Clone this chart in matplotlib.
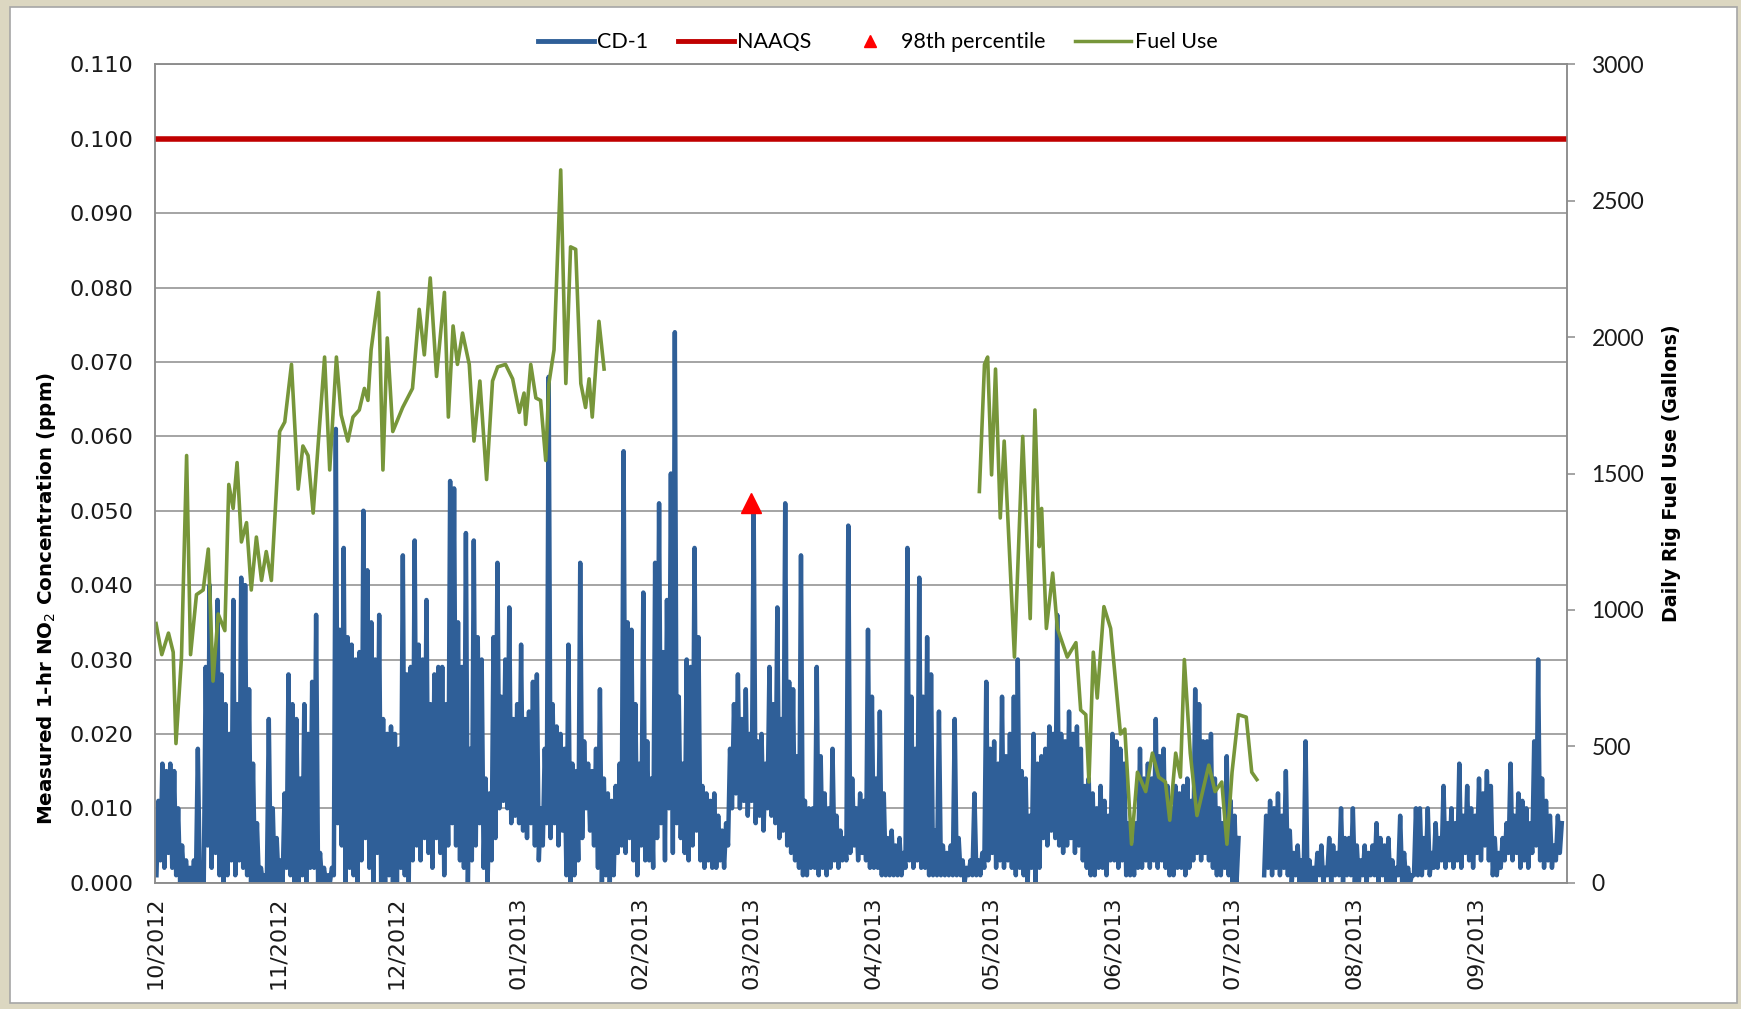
import numpy as np
import matplotlib
matplotlib.use("Agg")
import matplotlib.pyplot as plt
import matplotlib.dates as mdates
from matplotlib.lines import Line2D
from matplotlib.patches import Rectangle
from matplotlib.ticker import FormatStrFormatter
from datetime import datetime

nan = float("nan")

START = datetime(2012, 10, 1)
END = datetime(2013, 9, 24)

# CD-1 hourly NO2, read as daily high / low (ppb), day 0 = 2012-10-01
no2_hi = [
    11, 16, 15, 16, 15, 10, 5, 3, 2, 3,
    18, 2, 29, 40, 30, 38, 28, 24, 20, 38,
    24, 41, 40, 26, 16, 8, 2, 1, 22, 10,
    6, 3, 12, 28, 24, 22, 14, 24, 20, 27,
    36, 4, 2, 1, 2, 61, 34, 45, 33, 32,
    30, 31, 50, 42, 35, 30, 36, 22, 20, 21,
    20, 18, 44, 28, 29, 46, 32, 30, 38, 24,
    28, 29, 29, 24, 54, 53, 35, 29, 47, 18,
    46, 33, 30, 14, 12, 33, 43, 25, 30, 37,
    22, 24, 32, 22, 23, 27, 28, 10, 18, 68,
    24, 21, 20, 18, 32, 16, 15, 43, 19, 16,
    15, 18, 26, 14, 12, 11, 13, 16, 58, 35,
    34, 24, 16, 39, 19, 14, 43, 51, 31, 38,
    55, 74, 25, 16, 30, 29, 45, 33, 13, 12,
    11, 12, 9, 7, 8, 18, 24, 28, 22, 26,
    20, 50, 19, 20, 16, 29, 24, 37, 22, 51,
    27, 26, 17, 44, 11, 10, 10, 29, 17, 12,
    10, 18, 9, 7, 6, 48, 14, 10, 12, 11,
    34, 25, 14, 23, 12, 6, 7, 5, 6, 4,
    45, 25, 18, 41, 25, 33, 28, 7, 23, 5,
    4, 5, 22, 6, 3, 2, 3, 12, 3, 4,
    27, 18, 19, 16, 25, 17, 20, 25, 30, 15,
    14, 9, 20, 16, 17, 18, 21, 20, 36, 20,
    19, 23, 20, 21, 18, 13, 14, 12, 10, 13,
    11, 9, 20, 19, 18, 16, 8, 5, 8, 18,
    14, 16, 14, 22, 17, 18, 13, 10, 13, 12,
    13, 14, 11, 26, 24, 19, 19, 20, 14, 10,
    8, 17, 11, 9, 6, nan, nan, nan, nan, nan,
    nan, 9, 11, 10, 12, 9, 15, 7, 4, 5,
    3, 19, 3, 2, 4, 5, 2, 6, 5, 4,
    10, 6, 6, 10, 5, 3, 5, 4, 5, 8,
    6, 5, 6, 3, 2, 9, 4, 2, 1, 10,
    10, 6, 10, 4, 8, 6, 13, 8, 10, 8,
    16, 9, 13, 10, 9, 14, 12, 15, 13, 6,
    4, 6, 8, 16, 9, 12, 11, 10, 8, 19,
    30, 14, 11, 9, 5, 9, 8,
]
no2_lo = [
    1, 3, 2, 4, 2, 1, 0, 0, 0, 0,
    0, 0, 0, 5, 2, 4, 1, 0, 1, 3,
    1, 3, 2, 1, 0, 0, 0, 0, 0, 0,
    0, 0, 0, 2, 1, 0, 0, 1, 0, 2,
    2, 0, 0, 0, 0, 1, 8, 5, 0, 2,
    1, 0, 3, 6, 2, 0, 4, 0, 0, 1,
    0, 0, 2, 1, 0, 3, 5, 3, 6, 4,
    2, 6, 4, 1, 5, 8, 5, 3, 2, 0,
    3, 5, 8, 2, 0, 3, 6, 10, 11, 10,
    8, 9, 8, 7, 6, 8, 5, 3, 5, 8,
    6, 8, 5, 7, 1, 0, 1, 3, 6, 10,
    7, 5, 2, 0, 1, 0, 1, 4, 5, 4,
    6, 3, 1, 5, 3, 3, 2, 6, 8, 3,
    10, 4, 8, 6, 4, 3, 5, 7, 3, 2,
    3, 2, 2, 3, 2, 5, 10, 12, 10, 11,
    9, 11, 8, 9, 7, 10, 9, 8, 6, 7,
    5, 4, 3, 2, 1, 1, 2, 2, 1, 2,
    1, 2, 3, 2, 3, 3, 4, 5, 3, 4,
    3, 2, 2, 2, 1, 1, 1, 1, 1, 1,
    2, 3, 2, 3, 2, 2, 1, 1, 1, 1,
    1, 1, 1, 1, 1, 0, 1, 1, 1, 1,
    2, 3, 4, 2, 3, 2, 3, 2, 1, 2,
    1, 0, 2, 0, 2, 6, 5, 7, 6, 5,
    4, 5, 6, 4, 5, 3, 2, 1, 1, 2,
    2, 1, 3, 3, 2, 3, 1, 1, 1, 2,
    2, 3, 2, 3, 2, 3, 2, 1, 1, 2,
    2, 1, 2, 3, 4, 3, 4, 3, 2, 1,
    1, 2, 1, 0, 0, nan, nan, nan, nan, nan,
    nan, 1, 2, 1, 2, 1, 2, 1, 0, 1,
    0, 0, 0, 0, 0, 1, 0, 1, 0, 1,
    1, 0, 1, 1, 0, 0, 1, 0, 1, 1,
    0, 1, 0, 0, 0, 1, 0, 0, 0, 1,
    1, 1, 2, 1, 2, 2, 3, 2, 3, 2,
    3, 2, 4, 3, 2, 4, 3, 5, 3, 1,
    1, 2, 3, 4, 3, 4, 2, 3, 2, 4,
    5, 3, 2, 3, 2, 3, 4,
]

# daily rig fuel use (gallons), days since 2012-10-01
fuel_day = [
    0.15, 1.6, 3.3, 4.5, 5.2, 6.6, 7.9, 8.9, 10.4, 12.1, 13.4, 14.6, 15.9,
    17.6, 18.6, 19.7, 20.7, 21.8, 23.1, 24.3, 25.6, 26.9, 28.1, 29.4, 31.5,
    32.8, 34.5, 36.2, 37.4, 38.7, 40.0, 42.9, 44.2, 45.9, 47.1, 48.8, 50.1,
    51.7, 53.0, 53.9, 54.7, 56.6, 57.7, 58.8, 60.2, 62.7, 65.2, 66.9, 68.2,
    69.7, 71.3, 73.3, 74.3, 75.5, 76.6, 77.9, 79.6, 80.8, 82.3, 84.0, 85.5,
    86.8, 88.8, 90.6, 92.3, 93.5, 93.9, 95.2, 96.5, 97.7, 99.0, 99.8, 101.1,
    102.8, 104.1, 105.3, 106.6, 107.9, 109.1, 110.0, 110.8, 112.5, 113.8,
    nan,
    209.0, 210.3, 211.1, 212.1, 213.1, 214.3, 215.3, 217.9, 220.0, 221.9,
    223.1, 224.2, 224.8, 226.0, 227.6, 228.8, 231.3, 233.5, 234.7, 236.0,
    236.8, 237.9, 238.9, 240.6, 242.3, 244.8, 245.9, 247.6, 249.1, 251.2,
    252.9, 254.5, 256.2, 257.3, 258.8, 260.0, 261.0, 262.5, 264.2, 267.2,
    268.8, 270.5, 271.8, 273.1, 274.7, 276.7, 278.1, 279.4,
]
fuel_gal = [
    950, 836, 915, 845, 510, 827, 1566, 836, 1056, 1073, 1223, 739, 985,
    924, 1460, 1372, 1540, 1249, 1320, 1073, 1267, 1108, 1214, 1108, 1654,
    1689, 1900, 1443, 1601, 1566, 1355, 1927, 1513, 1927, 1715, 1619, 1707,
    1733, 1812, 1768, 1953, 2164, 1513, 1997, 1654, 1742, 1812, 2102, 1935,
    2217, 1856, 2164, 1707, 2041, 1900, 2015, 1900, 1619, 1839, 1478, 1839,
    1891, 1900, 1847, 1724, 1795, 1680, 1900, 1777, 1768, 1548, 1830, 1953,
    2613, 1830, 2331, 2322, 1830, 1742, 1847, 1707, 2058, 1883,
    nan,
    1434, 1900, 1927, 1495, 1883, 1337, 1619, 827, 1636, 968,
    1733, 1232, 1372, 932, 1135, 932, 827, 880, 633, 616,
    369, 845, 677, 1012, 932, 545, 563, 141, 405, 334,
    475, 387, 369, 229, 475, 387, 818, 475, 246, 431,
    334, 369, 141, 405, 616, 607, 405, 378,
]

naaqs_ppm = 0.100
p98_date = datetime(2013, 3, 1)
p98_ppm = 0.051

BLUE = "#2F5F98"
RED = "#C00000"
GREEN = "#77963A"
GRID = "#8C8C8C"
TXT = "#1A1A1A"

t0 = mdates.date2num(START)
days = np.arange(len(no2_hi))
no2_x = t0 + np.column_stack([days + 0.25, days + 0.75]).ravel()
no2_y = np.column_stack([no2_lo, no2_hi]).ravel() / 1000.0
fuel_x = t0 + np.array(fuel_day)

fig = plt.figure(figsize=(17.41, 10.09), dpi=100)
fig.patch.set_facecolor("#DCD7C1")
fig.add_artist(Rectangle((0.0057, 0.006), 0.992, 0.987, transform=fig.transFigure,
                         facecolor="white", edgecolor="#A6A6A6", lw=1.2, zorder=-1))

ax = fig.add_axes([0.0893, 0.1252, 0.8106, 0.8110])
ax.set_facecolor("white")
ax.plot(no2_x, no2_y, color=BLUE, lw=3.2, zorder=2)
ax.axhline(naaqs_ppm, color=RED, lw=4, zorder=3)
ax.plot([p98_date], [p98_ppm], marker="^", ms=14, color="#FF0000", ls="none", zorder=4)

ax.set_xlim(START, END)
ax.set_ylim(0, 0.110)
ax.set_yticks(np.arange(0, 0.1101, 0.01))
ax.yaxis.set_major_formatter(FormatStrFormatter("%.3f"))
ax.xaxis.set_major_locator(mdates.MonthLocator())
ax.xaxis.set_major_formatter(mdates.DateFormatter("%m/%Y"))
ax.grid(axis="y", color=GRID, lw=1.1)
ax.set_axisbelow(True)
ax.tick_params(axis="y", length=0, pad=16, labelsize=16, labelcolor=TXT)
ax.tick_params(axis="x", length=0, pad=10, labelsize=16, labelcolor=TXT, labelrotation=90)
for s in ax.spines.values():
    s.set_color(GRID)
    s.set_linewidth(1.1)

ax.set_ylabel(r"Measured 1-hr NO$_2$ Concentration (ppm)", fontsize=14.3,
              fontweight="bold", va="center")
ax.yaxis.set_label_coords(-0.0771, 0.348)

ax2 = ax.twinx()
ax2.plot(fuel_x, fuel_gal, color=GREEN, lw=2.6)
ax2.set_ylim(0, 3000)
ax2.set_yticks(range(0, 3001, 500))
ax2.tick_params(axis="y", length=5.8, width=1.1, color=GRID, pad=12,
                labelsize=16.5, labelcolor=TXT)
for lbl in ax2.get_yticklabels():
    lbl.set_fontfamily("Lato")
for s in ax2.spines.values():
    s.set_color(GRID)
    s.set_linewidth(1.1)
ax2.set_ylabel("Daily Rig Fuel Use (Gallons)", fontsize=13.7, fontweight="bold",
               va="center", rotation=90)
ax2.yaxis.set_label_coords(1.0739, 0.5)

handles = [
    Line2D([], [], color=BLUE, lw=3.5),
    Line2D([], [], color=RED, lw=3.5),
    Line2D([], [], color="#FF0000", marker="^", ls="none", ms=9),
    Line2D([], [], color=GREEN, lw=2.5),
]
labels = ["CD-1", "NAAQS", "98th percentile", "Fuel Use"]
fig.legend(handles, labels, loc="center", bbox_to_anchor=(0.504, 0.958), ncol=4,
           frameon=False, prop={"family": "Lato", "size": 15.5},
           handlelength=2.6, handletextpad=0.15, columnspacing=1.4)

fig.savefig("out.png", dpi=100, facecolor=fig.get_facecolor())
